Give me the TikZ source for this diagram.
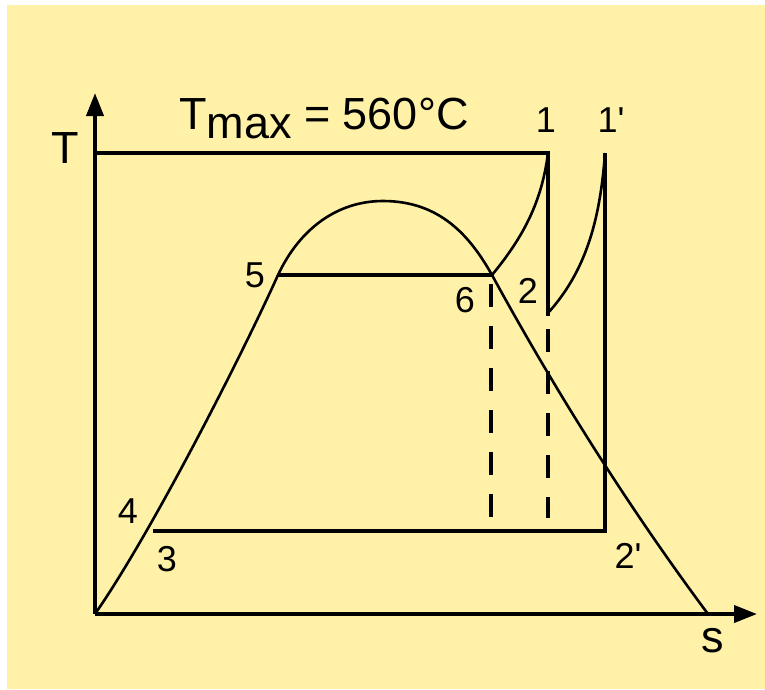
\documentclass[tikz,border=0pt]{standalone}
\usepackage{fontspec}
\setmainfont{Liberation Sans}
\newfontfamily\plainsans{Liberation Sans}
\usetikzlibrary{arrows.meta}
\definecolor{bgyellow}{RGB}{255,242,168}
\begin{document}
\begin{tikzpicture}[x=1pt,y=-1pt,
  boxline/.style={line width=4pt, line join=miter},
  curveline/.style={line width=2.6pt},
  dashline/.style={line width=4pt, dash pattern=on 23pt off 19pt},
  axis/.style={line width=4pt, -{Triangle[length=23pt,width=17pt]}},
  biglabel/.style={font=\plainsans\fontsize{45}{54}\selectfont, inner sep=0pt},
  smalllabel/.style={font=\plainsans\fontsize{36}{43}\selectfont, inner sep=0pt}]
% background
\fill[white] (0,0) rectangle (765,689);
\fill[bgyellow] (7,5) rectangle (765,689);
\useasboundingbox (0,0) rectangle (765,689);
% points
\coordinate (O) at (95,614);
\coordinate (Ttip) at (95,93);
\coordinate (stip) at (757,614);
\coordinate (Tmaxstart) at (95,153);
\coordinate (p1) at (548,153);
\coordinate (p1p) at (605,153);
\coordinate (p2) at (548,313);
\coordinate (p2end) at (548,316);
\coordinate (p2p) at (605,531);
\coordinate (p3) at (153,531);
\coordinate (p5) at (278,275);
\coordinate (p6) at (492,275);
\coordinate (peak) at (383,201);
\coordinate (sat) at (708,614);
\coordinate (d6a) at (491,284);
\coordinate (d6b) at (491,517);
\coordinate (d2a) at (548,329);
\coordinate (d2b) at (548,518);
% axes
\draw[axis] (O) -- (Ttip);
\draw[axis] (O) -- (stip);
% cycle lines
\draw[boxline] (Tmaxstart) -- (p1) -- (p2end);
\draw[boxline] (p1p) -- (p2p) -- (p3);
\draw[boxline] (p5) -- (p6);
% saturation curve
\draw[curveline] (O) .. controls (152,532) and (242,355) .. (p5)
  .. controls (300,228) and (338,201) .. (peak)
  .. controls (440,201) and (470,236) .. (p6)
  .. controls (552,385) and (626,504) .. (sat);
% superheat curves
\draw[curveline] (p6) .. controls (525,235) and (542,200) .. (p1);
\draw[curveline] (p2) .. controls (585,272) and (600,222) .. (p1p);
% dashed
\draw[dashline] (d6a) -- (d6b);
\draw[dashline] (d2a) -- (d2b);
% labels
\node[biglabel] (lT) at (65,148) {T};
\node[biglabel] (ls) at (713,641) {s};
\node[biglabel, anchor=base west] (ltmax) at (179,129) {T\raisebox{-9pt}{max} = 560°C};
\node[smalllabel] (l1) at (546,120) {1};
\node[smalllabel] (l1p) at (611,120) {1\symbol{39}};
\node[smalllabel] (l5) at (255,275) {5};
\node[smalllabel] (l6) at (465,300) {6};
\node[smalllabel] (l2) at (528,291) {2};
\node[smalllabel] (l4) at (128,511) {4};
\node[smalllabel] (l3) at (167,559) {3};
\node[smalllabel] (l2p) at (628,556) {2\symbol{39}};
\end{tikzpicture}
\end{document}
